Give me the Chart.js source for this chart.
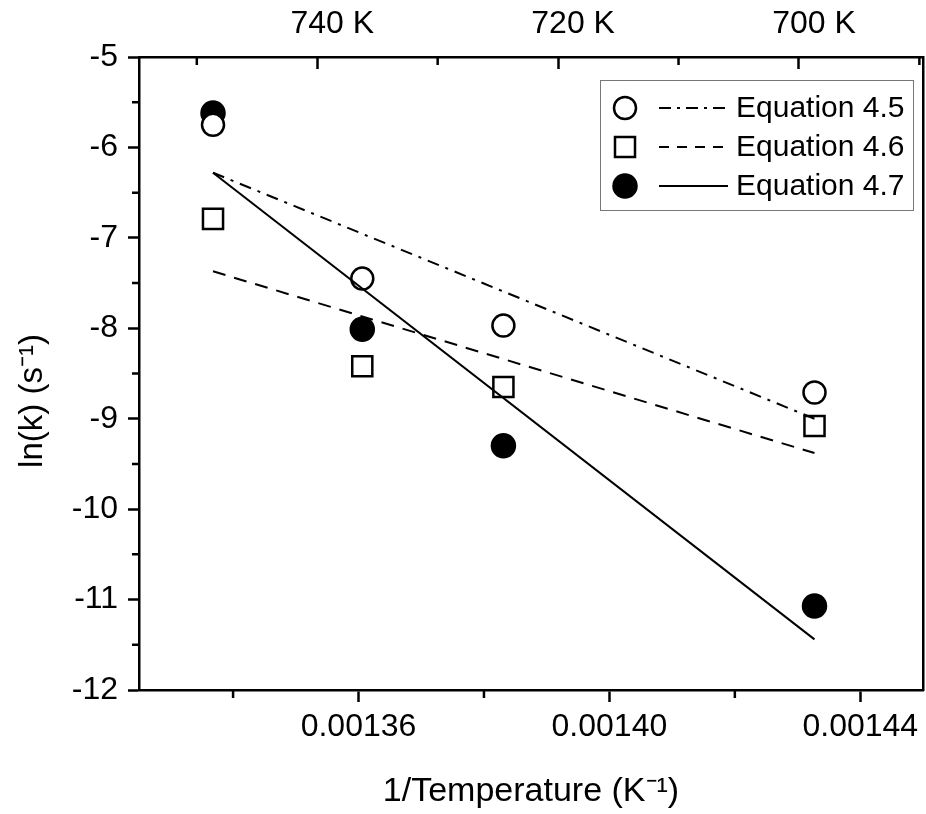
<!DOCTYPE html>
<html>
<head>
<meta charset="utf-8">
<script src="https://cdn.jsdelivr.net/npm/chart.js@4.4.1/dist/chart.umd.min.js"></script>
<style>
  html, body { margin: 0; padding: 0; background: #fff; }
  #wrap { width: 926px; height: 814px; }
</style>
</head>
<body>
<div id="wrap"><canvas id="arrhenius" width="926" height="814"></canvas></div>
<script>
// measured points: 1/T (K^-1) and ln(k) for each equation
const invT = [0.0013368, 0.0013606, 0.0013831, 0.0014327];
const eq45 = [-5.75, -7.45, -7.97, -8.71];
const eq46 = [-6.79, -8.42, -8.65, -9.08];
const eq47 = [-5.62, -8.01, -9.30, -11.07];

// fitted lines (end points)
const fitX = [0.0013368, 0.0014327];
const fit45 = [-6.28, -9.00];
const fit46 = [-7.37, -9.38];
const fit47 = [-6.28, -11.44];

// axis ticks
const xMajor = [0.00136, 0.00140, 0.00144];
const xMinor = [0.00134, 0.00138, 0.00142];
const topMajor = [740, 720, 700];
const topMinor = [750, 730, 710, 690];
const yMajor = [-12, -11, -10, -9, -8, -7, -6, -5];
const yMinor = [-11.5, -10.5, -9.5, -8.5, -7.5, -6.5, -5.5];

const legendLabels = ['Equation 4.5', 'Equation 4.6', 'Equation 4.7'];
const yTitle = 'ln(k) (s\u207B\u00B9)';
const xTitle = '1/Temperature (K\u207B\u00B9)';

const FONT = '"Liberation Sans", Arial, sans-serif';
const toXY = (xs, ys) => ys.map((v, i) => ({ x: xs[i], y: v }));

// draws one marker like the plot points
function drawMarker(ctx, kind, x, y) {
    ctx.save();
    ctx.lineWidth = 2.5;
    ctx.strokeStyle = '#000';
    if (kind === 'open') {
        ctx.fillStyle = '#fff';
        ctx.beginPath(); ctx.arc(x, y, 11, 0, Math.PI * 2); ctx.fill(); ctx.stroke();
    } else if (kind === 'square') {
        ctx.fillStyle = '#fff';
        ctx.beginPath(); ctx.rect(x - 10, y - 10, 20, 20); ctx.fill(); ctx.stroke();
    } else {
        ctx.fillStyle = '#000';
        ctx.beginPath(); ctx.arc(x, y, 11.5, 0, Math.PI * 2); ctx.fill(); ctx.stroke();
    }
    ctx.restore();
}

const legendBox = {
    id: 'legendBox',
    afterDraw(chart) {
        const ctx = chart.ctx;
        const kinds = ['open', 'square', 'filled'];
        const dashes = [[12, 6, 3, 6], [10, 8], []];
        ctx.save();
        ctx.strokeStyle = '#777';
        ctx.lineWidth = 1;
        ctx.strokeRect(600.5, 80.5, 313, 130);
        legendLabels.forEach((label, i) => {
            const cy = 108 + i * 39;
            drawMarker(ctx, kinds[i], 625, cy);
            ctx.beginPath();
            ctx.setLineDash(dashes[i]);
            ctx.lineWidth = 2;
            ctx.strokeStyle = '#000';
            ctx.moveTo(659, cy); ctx.lineTo(728, cy);
            ctx.stroke();
            ctx.setLineDash([]);
            ctx.fillStyle = '#000';
            ctx.font = '30px ' + FONT;
            ctx.textBaseline = 'middle';
            ctx.textAlign = 'left';
            ctx.fillText(label, 736, cy + 1);
        });
        ctx.restore();
    }
};

// shorter minor ticks + rotated y title
const extras = {
    id: 'extras',
    afterDraw(chart) {
        const { x, xTop, y } = chart.scales;
        const ctx = chart.ctx;
        ctx.save();
        ctx.strokeStyle = '#000';
        ctx.lineWidth = 2.5;
        ctx.beginPath();
        xMinor.forEach(v => {
            const px = x.getPixelForValue(v);
            ctx.moveTo(px, x.top); ctx.lineTo(px, x.top + 8);
        });
        topMinor.forEach(v => {
            const px = xTop.getPixelForValue(v);
            ctx.moveTo(px, xTop.bottom); ctx.lineTo(px, xTop.bottom + 8);
        });
        yMinor.forEach(v => {
            const py = y.getPixelForValue(v);
            ctx.moveTo(y.right - 7, py); ctx.lineTo(y.right, py);
        });
        ctx.stroke();

        ctx.translate(33, 401);
        ctx.rotate(-Math.PI / 2);
        ctx.fillStyle = '#000';
        ctx.font = '33px ' + FONT;
        ctx.textAlign = 'center';
        ctx.textBaseline = 'middle';
        ctx.fillText(yTitle, 0, 0);
        ctx.restore();
    }
};

const borderOpts = { display: true, color: '#000', width: 2.5 };
const tickFont = { family: FONT, size: 32 };
const noSidePad = s => { s.paddingLeft = 0; s.paddingRight = 0; };
const noEndPad = s => { s.paddingTop = 0; s.paddingBottom = 0; };

const ctx = document.getElementById('arrhenius').getContext('2d');
new Chart(ctx, {
    type: 'scatter',
    data: {
        datasets: [
            {
                label: 'fit 4.7', data: toXY(fitX, fit47), showLine: true,
                borderColor: '#000', borderWidth: 2, pointRadius: 0
            },
            {
                label: 'fit 4.6', data: toXY(fitX, fit46), showLine: true,
                borderColor: '#000', borderWidth: 2, borderDash: [13, 9], pointRadius: 0
            },
            {
                label: 'fit 4.5', data: toXY(fitX, fit45), showLine: true,
                borderColor: '#000', borderWidth: 2, borderDash: [12, 7, 3, 7], pointRadius: 0
            },
            {
                label: legendLabels[0], data: toXY(invT, eq45),
                pointStyle: 'circle', pointRadius: 11, borderWidth: 2.5,
                borderColor: '#000', backgroundColor: '#fff'
            },
            {
                label: legendLabels[1], data: toXY(invT, eq46),
                pointStyle: 'rect', pointRadius: 14.2, borderWidth: 2.5,
                borderColor: '#000', backgroundColor: '#fff'
            },
            {
                label: legendLabels[2], data: toXY(invT, eq47),
                pointStyle: 'circle', pointRadius: 11.5, borderWidth: 2.5,
                borderColor: '#000', backgroundColor: '#000'
            }
        ]
    },
    options: {
        responsive: false,
        animation: false,
        layout: { padding: 0, autoPadding: false },
        scales: {
            x: {
                type: 'linear',
                position: 'bottom',
                min: 0.001325,
                max: 0.00145,
                afterBuildTicks: s => { s.ticks = xMajor.map(v => ({ value: v })); },
                afterFit: s => { s.height = 124; noSidePad(s); },
                ticks: {
                    color: '#000', font: tickFont, padding: 6, maxRotation: 0,
                    callback: v => v.toFixed(5)
                },
                grid: { drawOnChartArea: false, tickLength: 12, tickWidth: 2.5, tickColor: '#000' },
                border: borderOpts,
                title: {
                    display: true,
                    text: xTitle,
                    color: '#000',
                    font: { family: FONT, size: 34 },
                    padding: { top: 0, bottom: 2 }
                }
            },
            xTop: {
                type: 'linear',
                position: 'top',
                reverse: true,
                min: 689.7,
                max: 754.8,
                afterBuildTicks: s => { s.ticks = topMajor.map(v => ({ value: v })); },
                afterFit: s => { s.height = 57; noSidePad(s); },
                ticks: {
                    color: '#000', font: tickFont, padding: 26, maxRotation: 0,
                    labelOffset: 15,
                    callback: v => v + ' K'
                },
                grid: { drawOnChartArea: false, tickLength: -12, tickWidth: 2.5, tickColor: '#000' },
                border: borderOpts
            },
            y: {
                type: 'linear',
                position: 'left',
                min: -12,
                max: -5,
                afterBuildTicks: s => { s.ticks = yMajor.map(v => ({ value: v })); },
                afterFit: s => { s.width = 139; noEndPad(s); },
                ticks: { color: '#000', font: tickFont, padding: 10, callback: v => String(v) },
                grid: { drawOnChartArea: false, tickLength: 11, tickWidth: 2.5, tickColor: '#000' },
                border: borderOpts
            },
            yRight: {
                type: 'linear',
                position: 'right',
                min: -12,
                max: -5,
                afterFit: s => { s.width = 3; noEndPad(s); },
                ticks: { display: false },
                grid: { drawOnChartArea: false, drawTicks: false },
                border: borderOpts
            }
        },
        plugins: {
            legend: { display: false },
            tooltip: { enabled: false }
        }
    },
    plugins: [extras, legendBox]
});
</script>
</body>
</html>
